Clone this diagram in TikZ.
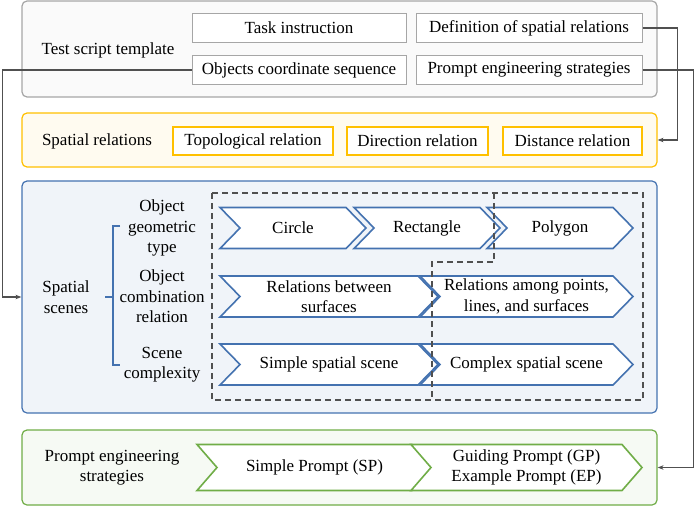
\documentclass[tikz,border=0pt]{standalone}
\usepackage{fontspec}
\setmainfont{Liberation Serif}
\usepackage{tikz}
\usetikzlibrary{arrows.meta,calc,positioning}
\definecolor{tsgray}{RGB}{166,166,166}
\definecolor{tsyellow}{RGB}{255,192,0}
\definecolor{tsblue}{RGB}{68,114,176}
\definecolor{tsgreen}{RGB}{112,173,71}
\definecolor{tsline}{RGB}{80,80,80}
% chevron: style, name, left x, right x, centre y, half height, text
\newcommand{\chev}[7]{%
  \draw[#1] (#3,#5-#6) -- (#4-20,#5-#6) -- (#4,#5) -- (#4-20,#5+#6) -- (#3,#5+#6) -- (#3+20,#5) -- cycle;
  \node[align=center] (#2) at ({(#3+#4)/2},#5) {#7};}

\begin{document}
\begin{tikzpicture}[x=1pt,y=-1pt,font=\rmfamily\fontsize{17}{20.5}\selectfont,
    panel/.style={draw,rounded corners=5pt,line width=1.2pt,inner sep=0pt},
    tbox/.style={draw=tsgray,fill=white,line width=1pt,minimum height=29,inner sep=0pt},
    ybox/.style={draw=tsyellow,fill=white,line width=1.3pt,minimum height=28,inner sep=0pt},
    bchev/.style={draw=tsblue,fill=white,line width=1.6pt,line join=miter},
    gchev/.style={draw=tsgreen,fill=white,line width=1.6pt,line join=miter},
    conn/.style={draw=tsline,line width=1.3pt,-{Stealth[length=6pt,width=4.5pt]}},
    zone/.style={draw=tsline,line width=1.6pt,dash pattern=on 6pt off 4pt}]
  \useasboundingbox (0,0) rectangle (700,508);
  % test script template
  \node[panel,draw=tsgray,fill=black!2,minimum width=635,minimum height=96] (tpanel) at (339.5,49) {};
  \node at (108,50) {Test script template};
  \node[tbox,minimum width=214] (task) at (299,28) {Task instruction};
  \node[tbox,minimum width=226] (defn) at (529,28) {Definition of spatial relations};
  \node[tbox,minimum width=214] (objs) at (299,70) {Objects coordinate sequence};
  \node[tbox,minimum width=226] (pstrat) at (529,70) {Prompt engineering strategies};
  % spatial relations
  \node[panel,draw=tsyellow,fill=tsyellow!6,minimum width=635,minimum height=54] (ypanel) at (339.5,140) {};
  \node at (97,141) {Spatial relations};
  \node[ybox,minimum width=160] (topo) at (253,141) {Topological relation};
  \node[ybox,minimum width=141] (dir) at (417.5,141) {Direction relation};
  \node[ybox,minimum width=139] (dist) at (572.5,141) {Distance relation};
  % spatial scenes
  \node[panel,draw=tsblue,fill=tsblue!8,minimum width=635,minimum height=232] (spanel) at (339.5,297) {};
  \node[align=center] at (66,297) {Spatial\\scenes};
  \draw[tsblue,line width=1.2pt] (120,226) -- (113,226) -- (113,365) -- (120,365) (113,297) -- (105,297);
  \node[align=center] (geom) at (162,228) {Object\\geometric\\type};
  \node[align=center] (comb) at (162,296.5) {Object\\combination\\relation};
  \node[align=center] (cplx) at (162,364.5) {Scene\\complexity};
  \chev{bchev}{circ}{220}{366}{228}{20.5}{Circle}
  \chev{bchev}{rect}{354}{500}{228}{20.5}{Rectangle}
  \chev{bchev}{poly}{487}{633}{228}{20.5}{Polygon}
  \chev{bchev}{surf}{220}{438}{296.5}{20.5}{Relations between\\surfaces}
  \chev{bchev}{plsf}{420}{633}{296.5}{20.5}{Relations among points,\\lines, and surfaces}
  \chev{bchev}{simp}{220}{438}{364.5}{20.5}{Simple spatial scene}
  \chev{bchev}{comp}{420}{633}{364.5}{20.5}{Complex spatial scene}
  \draw[zone] (212,193) rectangle (643,400);
  \draw[zone] (494,193) -- (494,262) -- (432,262) -- (432,400);
  % prompt engineering strategies
  \node[panel,draw=tsgreen,fill=tsgreen!6,minimum width=635,minimum height=75] (gpanel) at (339.5,467.5) {};
  \node[align=center] at (112,467.5) {Prompt engineering\\strategies};
  \chev{gchev}{sp}{197}{432}{467.5}{23}{Simple Prompt (SP)}
  \chev{gchev}{gep}{411}{642}{467.5}{23}{Guiding Prompt (GP)\\Example Prompt (EP)}
  % connectors
  \draw[conn] (objs.west) -| ($(spanel.west)+(-19,0)$) -- (spanel.west);
  \draw[conn] (defn.east) -| ($(ypanel.east)+(20,0)$) -- (ypanel.east);
  \draw[conn] (pstrat.east) -| ($(gpanel.east)+(36,0)$) -- (gpanel.east);
\end{tikzpicture}
\end{document}
